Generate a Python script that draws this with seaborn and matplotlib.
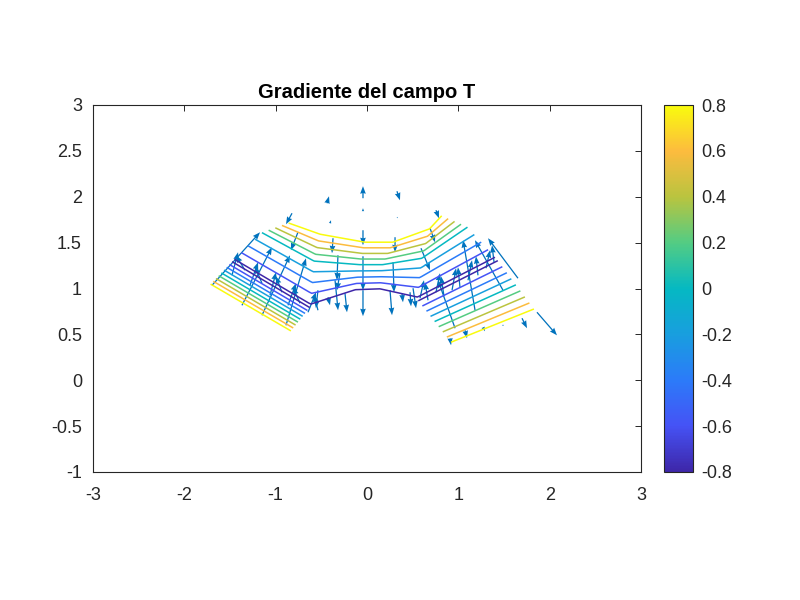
import numpy as np
import matplotlib
matplotlib.use("Agg")
import matplotlib.pyplot as plt
import seaborn as sns
from matplotlib.colors import LinearSegmentedColormap, Normalize
from matplotlib.cm import ScalarMappable

sns.set_style("white")
plt.rcParams['font.family'] = ['Liberation Sans', 'DejaVu Sans']
plt.rcParams['axes.unicode_minus'] = False

# parula-like colormap (MATLAB default)
parula_colors = [(0.2422, 0.1504, 0.6603), (0.2717, 0.3230, 0.9630), (0.1707, 0.4817, 0.9764),
                 (0.0952, 0.6207, 0.8730), (0.0194, 0.7243, 0.7623), (0.3244, 0.8011, 0.5162),
                 (0.7256, 0.7683, 0.2478), (0.9887, 0.7357, 0.2442), (0.9763, 0.9831, 0.0538)]
parula = LinearSegmentedColormap.from_list("parula", parula_colors)
norm = Normalize(vmin=-0.8, vmax=0.8)
levels = [-0.8, -0.6, -0.4, -0.2, 0.0, 0.2, 0.4, 0.6, 0.8]

# arch section: cross-sections (bottom, middle, top) from left to right
arch_x = [[-1.47, -1.15, -0.84],
          [-0.62, -0.58, -0.51],
          [-0.13, -0.08, -0.02],
          [0.14, 0.17, 0.29],
          [0.55, 0.60, 0.69],
          [1.42, 1.10, 0.80]]
arch_y = [[1.30, 1.61, 1.72],
          [0.80, 1.30, 1.61],
          [0.97, 1.26, 1.52],
          [0.98, 1.26, 1.52],
          [0.88, 1.33, 1.67],
          [1.32, 1.67, 1.80]]
arch_v = [0.0, 0.5, 1.0]
arch_T = [-0.85, 0.85]

# lower halves of the two legs: (bottom edge, upper edge) at outer and inner end
left_leg_x = [[-1.72, -1.47], [-0.84, -0.62]]
left_leg_y = [[1.04, 1.30], [0.53, 0.80]]
right_leg_x = [[0.93, 0.55], [1.84, 1.42]]
right_leg_y = [[0.40, 0.88], [0.76, 1.32]]
leg_v = [0.0, 1.0]
leg_T = [0.85, -0.85]

# gradient arrows: tail position and components
qx = [-0.044, -0.438, 0.328, -0.821, 0.755, -0.044, 0.328, -0.405, -0.756,
      -0.372, -0.318, -0.296, -0.350, -0.241, -0.427, -0.044, -0.044, -0.044,
      0.307, 0.285, 0.252, 0.471, 0.383, 0.690, 0.591, 0.504, -0.537,
      -1.697, -1.369, -1.150, -0.887,
      -1.478, -1.336, -1.281, -1.150, -1.062, -0.931, -0.865, -0.734, -0.646, -0.537,
      0.964, 1.183, 1.489, 1.653,
      0.580, 0.668, 0.755, 0.843, 0.931, 1.018, 1.106, 1.215, 1.303, 1.391,
      0.909, 1.073, 1.270, 1.489, 1.697, 1.861]
qy = [1.984, 1.929, 2.060, 1.820, 1.853, 1.842, 1.777, 1.711, 1.613,
      1.548, 1.362, 1.166, 1.090, 0.948, 0.905, 1.635, 1.351, 0.981,
      1.559, 1.286, 0.981, 0.959, 0.948, 1.657, 1.439, 1.003, 0.981,
      1.035, 0.817, 0.708, 0.599,
      1.144, 1.199, 1.035, 1.057, 0.926, 0.959, 0.817, 0.839, 0.741, 0.763,
      0.567, 0.763, 0.981, 1.112,
      0.894, 0.872, 0.959, 0.916, 0.981, 1.014, 1.090, 1.144, 1.221, 1.286,
      0.458, 0.545, 0.578, 0.599, 0.676, 0.741]
qu = [0.0, 0.022, 0.033, -0.066, 0.033, 0.0, 0.011, 0.011, -0.077,
      -0.011, -0.011, -0.033, 0.033, 0.022, 0.022, 0.0, 0.0, 0.0,
      0.0, 0.011, 0.022, 0.011, 0.011, 0.055, 0.099, 0.033, -0.022,
      0.526, 0.328, 0.307, 0.219,
      0.066, -0.099, 0.088, -0.077, 0.066, -0.066, 0.088, -0.077, 0.088, -0.044,
      -0.186, -0.131, -0.307, -0.328,
      0.044, -0.033, 0.044, -0.033, 0.044, -0.022, 0.044, -0.022, 0.044, -0.022,
      0.011, 0.022, 0.022, 0.005, 0.055, 0.219]
qv = [0.131, 0.076, -0.098, -0.120, -0.087, 0.033, -0.011, 0.033, -0.196,
      -0.163, -0.272, -0.185, -0.327, -0.207, -0.087, -0.163, -0.371, -0.283,
      -0.163, -0.327, -0.272, -0.153, -0.098, -0.153, -0.240, -0.218, -0.196,
      0.578, 0.632, 0.654, 0.730,
      0.251, 0.163, 0.251, 0.185, 0.251, 0.174, 0.240, 0.174, 0.218, 0.174,
      0.523, 0.763, 0.545, 0.436,
      0.196, 0.196, 0.207, 0.218, 0.240, 0.218, 0.218, 0.207, 0.196, 0.185,
      -0.076, -0.087, -0.044, -0.010, -0.109, -0.251]


def make_patch(cols_x, cols_y, v_knots, t_values, ns=150, nv=80):
    cols_x = np.asarray(cols_x)
    cols_y = np.asarray(cols_y)
    ncol = cols_x.shape[0]
    s = np.linspace(0, ncol - 1, ns)
    v = np.linspace(0, 1, nv)
    kx = np.array([np.interp(s, np.arange(ncol), cols_x[:, k]) for k in range(len(v_knots))])
    ky = np.array([np.interp(s, np.arange(ncol), cols_y[:, k]) for k in range(len(v_knots))])
    X = np.array([[np.interp(vi, v_knots, kx[:, j]) for j in range(ns)] for vi in v])
    Y = np.array([[np.interp(vi, v_knots, ky[:, j]) for j in range(ns)] for vi in v])
    T = np.repeat(np.interp(v, [0, 1], t_values)[:, None], ns, axis=1)
    return X, Y, T


fig = plt.figure(figsize=(8, 6), dpi=100)
ax = fig.add_axes([93 / 800, 128 / 600, 548 / 800, 367 / 600])

patches = [make_patch(arch_x, arch_y, arch_v, arch_T),
           make_patch(left_leg_x, left_leg_y, leg_v, leg_T),
           make_patch(right_leg_x, right_leg_y, leg_v, leg_T)]
for X, Y, T in patches:
    ax.contour(X, Y, T, levels=levels, cmap=parula, norm=norm, linewidths=1.1)

ax.quiver(qx, qy, qu, qv, angles='xy', scale_units='xy', scale=1, color='#0072BD',
          width=0.0023, headwidth=4.5, headlength=6, headaxislength=5.5)

ax.set_xlim(-3, 3)
ax.set_ylim(-1, 3)
xt = [-3, -2, -1, 0, 1, 2, 3]
yt = [-1, -0.5, 0, 0.5, 1, 1.5, 2, 2.5, 3]
ax.set_xticks(xt)
ax.set_xticklabels([f"{t:g}" for t in xt])
ax.set_yticks(yt)
ax.set_yticklabels([f"{t:g}" for t in yt])
ax.tick_params(direction='in', length=4, width=0.7, top=True, right=True,
               labelsize=13, colors='#262626')
ax.tick_params(axis='x', pad=11)
ax.tick_params(axis='y', pad=8)
for sp in ax.spines.values():
    sp.set_color('#262626')
    sp.set_linewidth(0.8)
ax.set_title('Gradiente del campo T', fontsize=14.5, fontweight='bold', color='black', pad=5)

cax = fig.add_axes([664 / 800, 128 / 600, 29 / 800, 367 / 600])
cb_ticks = [-0.8, -0.6, -0.4, -0.2, 0, 0.2, 0.4, 0.6, 0.8]
cb = fig.colorbar(ScalarMappable(norm=norm, cmap=parula), cax=cax, ticks=cb_ticks)
cb.ax.set_yticklabels([f"{t:g}" for t in cb_ticks])
cb.ax.tick_params(direction='in', length=4, width=0.7, labelsize=13, colors='#262626', pad=6)
cb.outline.set_edgecolor('#262626')
cb.outline.set_linewidth(0.8)

fig.savefig('out.png', dpi=100)
